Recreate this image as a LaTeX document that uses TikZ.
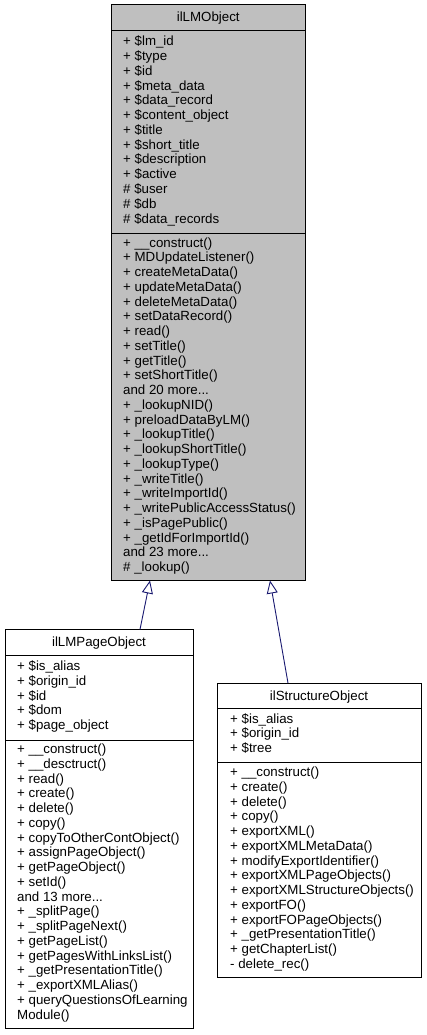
\documentclass[tikz,border=0pt]{standalone}
\usepackage{fontspec}
\setmainfont{Liberation Sans}
\usetikzlibrary{arrows.meta,calc}
\definecolor{boxgray}{HTML}{BFBFBF}
\definecolor{inhblue}{HTML}{191970}
\newcommand{\mydots}{...}
\begin{document}
\begin{tikzpicture}[x=1pt,y=-1pt,
  classbox/.style={draw=black, line width=1pt, rectangle, inner sep=0pt, outer sep=0pt, anchor=north west},
  sepline/.style={draw=black, line width=1pt},
  txt/.style={anchor=base west, inner sep=0pt, font=\fontsize{13.3}{14.75}\selectfont},
  ttl/.style={anchor=base, inner sep=0pt, font=\fontsize{13.3}{14.75}\selectfont},
  inh/.style={draw=inhblue, line width=0.9pt, -{Triangle[open, length=13pt, width=11pt]}}]
\useasboundingbox (0,0) rectangle (426,1035);

% ---------- ilLMObject ----------
\node[classbox, fill=boxgray, minimum width=194.5pt, minimum height=575.5pt] (lmobj) at (111,5) {};
\node[ttl] (lmobjtitle) at (208.25,22) {ilLMObject};
\draw[sepline] (111,31) -- (305.5,31);
\draw[sepline] (111,233.5) -- (305.5,233.5);
\foreach \t [count=\i from 0] in {+ \$lm\_id, + \$type, + \$id, + \$meta\_data, + \$data\_record, + \$content\_object, + \$title, + \$short\_title, + \$description, + \$active, \# \$user, \# \$db, \# \$data\_records}
  \node[txt] (lma\i) at (123,{46+\i*14.75}) {\t};
\foreach \t [count=\i from 0] in {+ \_\_construct(), + MDUpdateListener(), + createMetaData(), + updateMetaData(), + deleteMetaData(), + setDataRecord(), + read(), + setTitle(), + getTitle(), + setShortTitle(), and 20 more\mydots, + \_lookupNID(), + preloadDataByLM(), + \_lookupTitle(), + \_lookupShortTitle(), + \_lookupType(), + \_writeTitle(), + \_writeImportId(), + \_writePublicAccessStatus(), + \_isPagePublic(), + \_getIdForImportId(), and 23 more\mydots, \# \_lookup()}
  \node[txt] (lmm\i) at (123,{247+\i*14.75}) {\t};

% ---------- ilLMPageObject ----------
\node[classbox, fill=white, minimum width=188pt, minimum height=398.5pt] (pageobj) at (5,629.5) {};
\node[ttl] (pageobjtitle) at (99,646) {ilLMPageObject};
\draw[sepline] (5,655.5) -- (193,655.5);
\draw[sepline] (5,740) -- (193,740);
\foreach \t [count=\i from 0] in {+ \$is\_alias, + \$origin\_id, + \$id, + \$dom, + \$page\_object}
  \node[txt] (pa\i) at (17,{670.5+\i*14.75}) {\t};
\foreach \t [count=\i from 0] in {+ \_\_construct(), + \_\_desctruct(), + read(), + create(), + delete(), + copy(), + copyToOtherContObject(), + assignPageObject(), + getPageObject(), + setId(), and 13 more\mydots, + \_splitPage(), + \_splitPageNext(), + getPageList(), + getPagesWithLinksList(), + \_getPresentationTitle(), + \_exportXMLAlias(), + queryQuestionsOfLearning, Module()}
  \node[txt] (pm\i) at (17,{753.5+\i*14.75}) {\t};

% ---------- ilStructureObject ----------
\node[classbox, fill=white, minimum width=204pt, minimum height=294.5pt] (structobj) at (217,683) {};
\node[ttl] (structobjtitle) at (319,700) {ilStructureObject};
\draw[sepline] (217,708.5) -- (421,708.5);
\draw[sepline] (217,762.5) -- (421,762.5);
\foreach \t [count=\i from 0] in {+ \$is\_alias, + \$origin\_id, + \$tree}
  \node[txt] (sa\i) at (230,{723+\i*14.75}) {\t};
\foreach \t [count=\i from 0] in {+ \_\_construct(), + create(), + delete(), + copy(), + exportXML(), + exportXMLMetaData(), + modifyExportIdentifier(), + exportXMLPageObjects(), + exportXMLStructureObjects(), + exportFO(), + exportFOPageObjects(), + \_getPresentationTitle(), + getChapterList(), - delete\_rec()}
  \node[txt] (sm\i) at (230,{776.5+\i*14.75}) {\t};

% ---------- inheritance ----------
\draw[inh] ($(pageobj.north west)!0.718!(pageobj.north east)$) -- ($(lmobj.south west)!0.2005!(lmobj.south east)$);
\draw[inh] ($(structobj.north west)!0.348!(structobj.north east)$) -- ($(lmobj.south west)!0.8175!(lmobj.south east)$);
\end{tikzpicture}
\end{document}
